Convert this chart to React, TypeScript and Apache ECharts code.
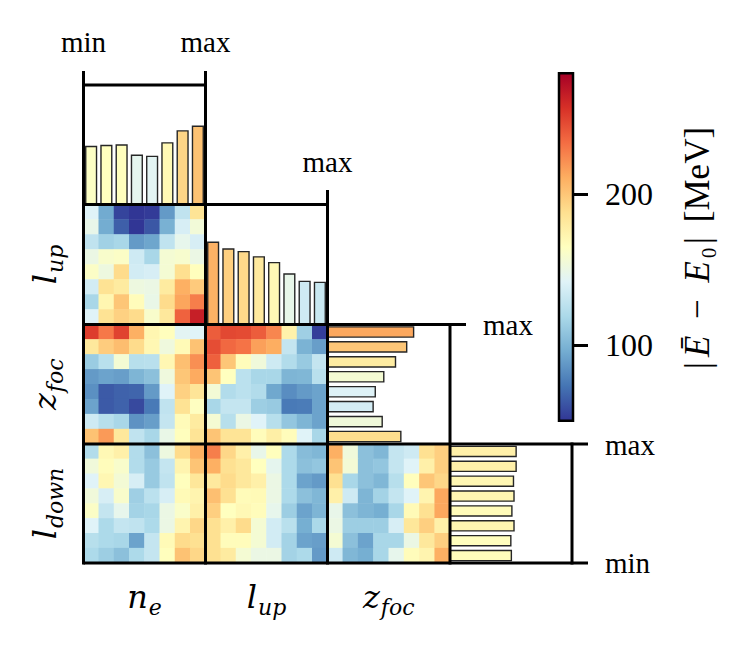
import React, { useEffect, useRef } from 'react';
import * as echarts from 'echarts';

// ---- data ----
const VMIN = 50;
const VMAX = 280;
const CMAP = ['#313695', '#4575b4', '#74add1', '#abd9e9', '#e0f3f8', '#ffffbf', '#fee090', '#fdae61', '#f46d43', '#d73027', '#a50026'];
const BINS = ['0', '1', '2', '3', '4', '5', '6', '7'];
const COLORBAR_TICKS = [100, 200];

const barNe = [163, 165, 166, 146, 144, 170, 193, 202];
const barLup = [209, 196, 191, 181, 170, 148, 134, 132];
const barZfoc = [213, 200, 179, 157, 141, 137, 154, 189];
const barLdown = [176, 176, 171, 172, 168, 172, 166, 167];

const hmLupNe = [
  [142, 95, 55, 50, 52, 88, 128, 185],
  [148, 96, 65, 50, 62, 98, 138, 155],
  [128, 115, 118, 88, 93, 128, 147, 138],
  [150, 160, 162, 134, 118, 157, 159, 150],
  [162, 152, 190, 136, 138, 157, 188, 166],
  [136, 186, 180, 152, 150, 180, 210, 198],
  [118, 172, 200, 167, 149, 190, 214, 228],
  [142, 186, 195, 190, 160, 182, 238, 265],
];
const hmZfocNe = [
  [252, 230, 250, 210, 172, 166, 144, 142],
  [182, 197, 204, 190, 171, 153, 169, 202],
  [112, 125, 157, 124, 125, 171, 203, 222],
  [88, 92, 90, 100, 106, 153, 200, 212],
  [84, 63, 66, 67, 88, 142, 195, 184],
  [92, 63, 66, 57, 75, 128, 186, 164],
  [134, 124, 118, 85, 90, 130, 168, 180],
  [202, 218, 182, 128, 118, 149, 166, 185],
];
const hmZfocLup = [
  [240, 248, 247, 240, 225, 175, 114, 53],
  [246, 236, 232, 216, 211, 130, 99, 90],
  [239, 200, 167, 154, 134, 122, 111, 130],
  [201, 165, 126, 118, 118, 100, 101, 125],
  [156, 122, 126, 122, 94, 83, 88, 92],
  [118, 130, 130, 113, 111, 75, 76, 92],
  [157, 124, 150, 142, 124, 109, 100, 92],
  [201, 185, 185, 167, 177, 167, 142, 118],
];
const hmLdownNe = [
  [122, 170, 176, 122, 106, 152, 190, 210],
  [154, 167, 160, 122, 111, 130, 173, 201],
  [142, 171, 156, 138, 111, 128, 166, 183],
  [154, 138, 160, 114, 126, 138, 169, 173],
  [162, 130, 147, 116, 118, 150, 161, 176],
  [142, 120, 130, 128, 120, 150, 173, 192],
  [124, 120, 118, 92, 130, 169, 190, 187],
  [120, 113, 106, 120, 130, 166, 202, 192],
];
const hmLdownLup = [
  [228, 192, 176, 148, 166, 120, 104, 101],
  [210, 187, 182, 165, 146, 120, 106, 109],
  [181, 190, 182, 176, 150, 120, 92, 88],
  [203, 187, 168, 169, 150, 120, 106, 101],
  [196, 165, 170, 167, 147, 113, 92, 100],
  [187, 176, 190, 157, 136, 125, 97, 119],
  [187, 167, 167, 157, 136, 116, 92, 90],
  [187, 180, 157, 150, 150, 116, 120, 88],
];
const hmLdownZfoc = [
  [210, 154, 106, 101, 130, 134, 187, 196],
  [201, 156, 106, 109, 130, 142, 176, 196],
  [187, 118, 106, 101, 124, 166, 200, 192],
  [176, 134, 100, 116, 130, 142, 173, 213],
  [148, 106, 100, 97, 118, 169, 187, 213],
  [150, 113, 113, 113, 138, 183, 196, 176],
  [157, 106, 92, 118, 118, 150, 182, 196],
  [134, 101, 97, 118, 147, 167, 173, 210],
];

// ---- layout ----
const COLS = [83.5, 205.5, 327.5, 450, 572];
const ROWS = [204.5, 324.5, 444, 563];
const TOP0 = 85;
const SERIF = 'DejaVu Serif';
const ROMAN = 'Liberation Serif';

function hexToRgb(h: string) {
  return [parseInt(h.slice(1, 3), 16), parseInt(h.slice(3, 5), 16), parseInt(h.slice(5, 7), 16)];
}
function cmap(v: number) {
  let t = (v - VMIN) / (VMAX - VMIN);
  t = Math.max(0, Math.min(1, t));
  const p = t * (CMAP.length - 1);
  const i = Math.min(CMAP.length - 2, Math.floor(p));
  const f = p - i;
  const a = hexToRgb(CMAP[i]);
  const b = hexToRgb(CMAP[i + 1]);
  const c = a.map((x, k) => Math.round(x + (b[k] - x) * f));
  return `rgb(${c[0]},${c[1]},${c[2]})`;
}

function measure(text: string, size: number, italic: boolean) {
  const cv = document.createElement('canvas');
  const ctx = cv.getContext('2d')!;
  ctx.font = `${italic ? 'italic ' : ''}${size}px "DejaVu Serif"`;
  return ctx.measureText(text).width;
}

function mathLabel(main: string, sub: string, cx: number, cy: number, rotated: boolean) {
  const MS = 32, SS = 22;
  const wm = measure(main, MS, true);
  const ws = measure(sub, SS, true);
  const total = wm + 1 + ws;
  return {
    type: 'group',
    x: cx,
    y: cy,
    rotation: rotated ? Math.PI / 2 : 0,
    z: 100,
    children: [
      {
        type: 'text', x: -total / 2, y: 0,
        style: { text: main, fontSize: MS, fontFamily: SERIF, fontStyle: 'italic', fill: '#000', align: 'left', verticalAlign: 'middle' },
      },
      {
        type: 'text', x: -total / 2 + wm + 1, y: 10,
        style: { text: sub, fontSize: SS, fontFamily: SERIF, fontStyle: 'italic', fill: '#000', align: 'left', verticalAlign: 'middle' },
      },
    ],
  };
}

export default function App() {
  const ref = useRef<HTMLDivElement>(null);
  useEffect(() => {
    if (!ref.current) return;
    const chart = echarts.init(ref.current, null, { renderer: 'svg' });

    const grids: any[] = [];
    const xAxes: any[] = [];
    const yAxes: any[] = [];
    const series: any[] = [];
    const heatIdx: number[] = [];

    const heatmaps: [number, number, number[][]][] = [
      [0, 0, hmLupNe],
      [1, 0, hmZfocNe],
      [1, 1, hmZfocLup],
      [2, 0, hmLdownNe],
      [2, 1, hmLdownLup],
      [2, 2, hmLdownZfoc],
    ];
    heatmaps.forEach(([r, c, m]) => {
      const gi = grids.length;
      grids.push({ left: COLS[c], top: ROWS[r], width: COLS[c + 1] - COLS[c], height: ROWS[r + 1] - ROWS[r], show: false });
      xAxes.push({ type: 'category', gridIndex: gi, data: BINS, show: false });
      yAxes.push({ type: 'category', gridIndex: gi, data: BINS, inverse: true, show: false });
      const data: number[][] = [];
      m.forEach((row, yi) => row.forEach((v, xi) => data.push([xi, yi, v])));
      heatIdx.push(series.length);
      series.push({ type: 'heatmap', xAxisIndex: gi, yAxisIndex: gi, data, itemStyle: { borderWidth: 0 }, emphasis: { disabled: true } });
    });

    const barStyle = {
      color: (p: any) => cmap(p.value),
      borderColor: '#262626',
      borderWidth: 1.4,
    };
    const vbars: [number, number, number, number[]][] = [
      [0, TOP0, ROWS[0], barNe],
      [1, ROWS[0], ROWS[1], barLup],
    ];
    vbars.forEach(([c, top, bottom, vals]) => {
      const gi = grids.length;
      grids.push({ left: COLS[c], top, width: COLS[c + 1] - COLS[c], height: bottom - top, show: false });
      xAxes.push({ type: 'category', gridIndex: gi, data: BINS, show: false });
      yAxes.push({ type: 'value', gridIndex: gi, min: VMIN, max: VMAX, show: false });
      series.push({ type: 'bar', xAxisIndex: gi, yAxisIndex: gi, data: vals, barCategoryGap: '20%', itemStyle: barStyle, emphasis: { disabled: true } });
    });
    const hbars: [number, number[]][] = [
      [2, barZfoc],
      [3, barLdown],
    ];
    hbars.forEach(([c, vals]) => {
      const gi = grids.length;
      const r = c - 1;
      grids.push({ left: COLS[c], top: ROWS[r], width: COLS[c + 1] - COLS[c], height: ROWS[r + 1] - ROWS[r], show: false });
      xAxes.push({ type: 'value', gridIndex: gi, min: VMIN, max: VMAX, show: false });
      yAxes.push({ type: 'category', gridIndex: gi, data: BINS, inverse: true, show: false });
      series.push({ type: 'bar', xAxisIndex: gi, yAxisIndex: gi, data: vals, barCategoryGap: '22%', itemStyle: barStyle, emphasis: { disabled: true } });
    });

    // colorbar axis: a thin grid whose y axis carries the ticks and labels
    const CB = { x: 559, y: 73.3, w: 14, h: 347.4 };
    {
      const gi = grids.length;
      grids.push({ left: CB.x, top: CB.y, width: CB.w, height: CB.h, show: false });
      xAxes.push({ type: 'value', gridIndex: gi, min: 0, max: 1, show: false });
      yAxes.push({
        type: 'value', gridIndex: gi, min: VMIN, max: VMAX, position: 'left', z: 110,
        axisLine: { show: true, onZero: true, lineStyle: { color: '#000', width: 0.01, opacity: 0 } },
        splitLine: { show: false },
        axisTick: { show: true, inside: true, customValues: COLORBAR_TICKS, length: CB.w + 15, lineStyle: { color: '#000', width: 3 } },
        axisLabel: { show: false },
      });
      yAxes.push({
        type: 'value', gridIndex: gi, min: VMIN, max: VMAX, position: 'right', z: 110,
        axisLine: { show: false, onZero: false },
        splitLine: { show: false },
        axisTick: { show: false },
        axisLabel: { show: true, customValues: COLORBAR_TICKS, fontSize: 32, fontFamily: ROMAN, color: '#000', margin: 32 },
      });
    }

    const L = (x1: number, y1: number, x2: number, y2: number, w = 3) => ({
      type: 'line', z: 100, shape: { x1, y1, x2, y2 }, style: { stroke: '#000', lineWidth: w },
    });
    const T = (text: string, x: number, y: number, align: string) => ({
      type: 'text', z: 100, x, y,
      style: { text, fontSize: 29, fontFamily: ROMAN, fill: '#000', align, verticalAlign: 'middle' },
    });

    const stops = CMAP.map((c, i) => ({ offset: 1 - i / (CMAP.length - 1), color: c })).reverse();

    const graphic: any[] = [
      L(COLS[0], TOP0, COLS[1], TOP0),
      L(COLS[0], ROWS[0], COLS[2], ROWS[0]),
      L(COLS[0], ROWS[1], 466, ROWS[1]),
      L(COLS[0], ROWS[2], 588, ROWS[2]),
      L(COLS[0], ROWS[3], 588, ROWS[3]),
      L(COLS[0], 71, COLS[0], ROWS[3] + 1.5),
      L(COLS[1], 71, COLS[1], ROWS[3] + 1.5),
      L(COLS[2], 190, COLS[2], ROWS[3] + 1.5),
      L(COLS[3], ROWS[1] - 1.5, COLS[3], ROWS[3] + 1.5),
      L(COLS[4], ROWS[2] - 1.5, COLS[4], ROWS[3] + 1.5),
      T('min', COLS[0], 42, 'center'),
      T('max', COLS[1], 42, 'center'),
      T('max', COLS[2], 162, 'center'),
      T('max', 483, 325, 'left'),
      T('max', 605, 445, 'left'),
      T('min', 605, 563, 'left'),
      mathLabel('n', 'e', (COLS[0] + COLS[1]) / 2, 597, false),
      mathLabel('l', 'up', (COLS[1] + COLS[2]) / 2, 597, false),
      mathLabel('z', 'foc', (COLS[2] + COLS[3]) / 2, 597, false),
      mathLabel('l', 'up', 45, (ROWS[0] + ROWS[1]) / 2, true),
      mathLabel('z', 'foc', 45, (ROWS[1] + ROWS[2]) / 2, true),
      mathLabel('l', 'down', 45, (ROWS[2] + ROWS[3]) / 2, true),
      {
        type: 'rect', z: 115,
        shape: { x: CB.x, y: CB.y, width: CB.w, height: CB.h },
        style: { fill: new echarts.graphic.LinearGradient(0, 0, 0, 1, stops) },
      },
      {
        type: 'rect', z: 116,
        shape: { x: CB.x, y: CB.y, width: CB.w, height: CB.h },
        style: { fill: 'none', stroke: '#000', lineWidth: 2.5 },
      },
      {
        type: 'text', z: 100, x: 697, y: 248, rotation: Math.PI / 2,
        style: {
          text: '{a||}{i|Ē}{m| − }{i|E}{r|₀}{b||}{r| [MeV]}',
          align: 'center', verticalAlign: 'middle', fill: '#000',
          rich: {
            a: { fontSize: 35, fontFamily: ROMAN, fill: '#000', padding: [0, 3, 0, 0] },
            b: { fontSize: 35, fontFamily: ROMAN, fill: '#000', padding: [0, 6, 0, 3] },
            r: { fontSize: 35, fontFamily: ROMAN, fill: '#000' },
            m: { fontSize: 35, fontFamily: ROMAN, fill: '#000', padding: [0, 6, 0, 6] },
            i: { fontSize: 35, fontFamily: ROMAN, fontStyle: 'italic', fill: '#000', padding: [0, 2, 0, 2] },
          },
        },
      },
    ];

    chart.setOption({
      animation: false,
      backgroundColor: '#ffffff',
      grid: grids,
      xAxis: xAxes,
      yAxis: yAxes,
      visualMap: {
        type: 'continuous', show: false, min: VMIN, max: VMAX, dimension: 2,
        seriesIndex: heatIdx, inRange: { color: CMAP },
      },
      series,
      graphic,
    });

    return () => chart.dispose();
  }, []);
  return <div ref={ref} style={{ position: 'absolute', left: 0, top: 0, width: 748, height: 647 }} />;
}
